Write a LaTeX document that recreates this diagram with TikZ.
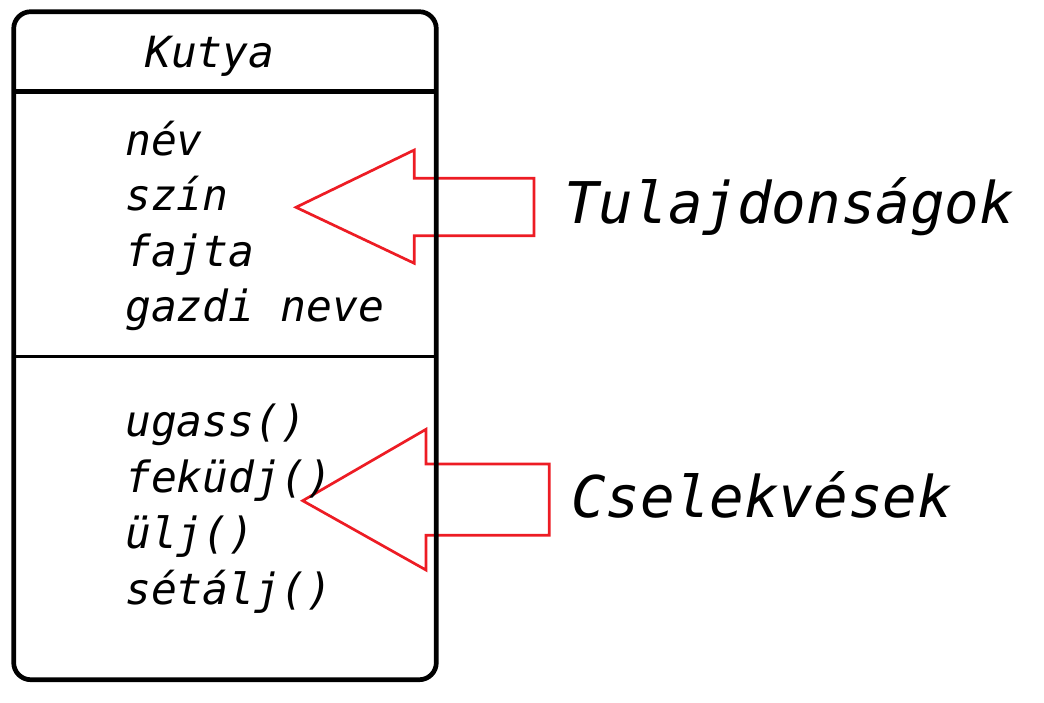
\documentclass[tikz,border=0pt]{standalone}
\usepackage{fontspec}
\newfontfamily\umlfont{DejaVu Sans Mono}
\usetikzlibrary{positioning}
\definecolor{paintred}{RGB}{237,28,36}

\begin{document}
\begin{tikzpicture}[x=1pt,y=-1pt,
    member/.style={anchor=base west,inner sep=0pt,font=\umlfont\itshape\fontsize{43}{50}\selectfont},
    note/.style={anchor=base west,inner sep=0pt,font=\umlfont\itshape\fontsize{57.5}{64}\selectfont},
    blockarrow/.style={draw=paintred,line width=2.7pt},
    boxline/.style={line width=4.7pt,rounded corners=17pt}]
  \useasboundingbox (0,0) rectangle (1044,702);
  % block arrows
  \coordinate (tipattr) at (296,207.3);
  \coordinate (tipmeth) at (302.7,500.7);
  \draw[blockarrow] (tipattr) -- (414.3,150) -- (414.3,178.3) -- (534,178.3)
    -- (534,235.7) -- (414.3,235.7) -- (414.3,263.3) -- cycle;
  \draw[blockarrow] (tipmeth) -- (426,429.3) -- (426,464) -- (549.3,464)
    -- (549.3,535.3) -- (426,535.3) -- (426,570) -- cycle;
  % class box
  \draw[boxline] (13.7,11.7) rectangle (436.3,679.7);
  \draw[line width=4.7pt] (13.7,91.7) -- (436.3,91.7);
  \draw[line width=3pt] (13.7,356) -- (436.3,356);
  \node[member] (classname) at (145,67) {Kutya};
  \foreach \t [count=\i] in {név,szín,fajta,gazdi neve}
    \node[member] (attr\i) at (125,{155+55.5*(\i-1)}) {\t};
  \foreach \t [count=\i] in {ugass(),feküdj(),ülj(),sétálj()}
    \node[member] (meth\i) at (125,{436+56*(\i-1)}) {\t};
  \node[note] (attrnote) at (564,223.3) {Tulajdonságok};
  \node[note] (methnote) at (571,517.3) {Cselekvések};
\end{tikzpicture}
\end{document}
